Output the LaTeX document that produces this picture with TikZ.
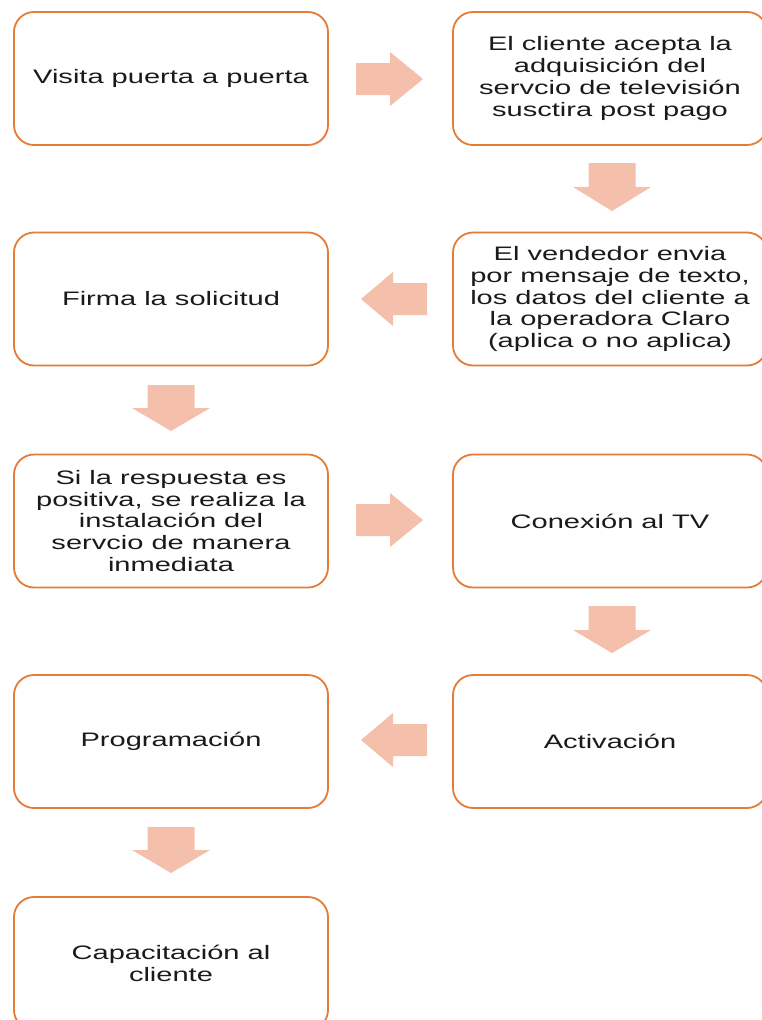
\documentclass[tikz,border=0pt]{standalone}
\usepackage{fontspec}
\setmainfont{Liberation Sans}[FakeStretch=1.49]
\definecolor{boxorange}{HTML}{E57C36}
\definecolor{arrowfill}{HTML}{F4BFAB}
\definecolor{txt}{HTML}{1A1A1A}
\begin{document}
\begin{tikzpicture}[x=1pt,y=-1pt,
  stepbox/.style={draw=boxorange, line width=1.8pt, rounded corners=20pt, fill=white,
    minimum width=314pt, minimum height=133pt, align=center, text=txt,
    font=\fontsize{19.5pt}{21.7pt}\selectfont, inner sep=0pt},
  blockarrow/.style={fill=arrowfill, draw=none}]
\useasboundingbox (0,0) rectangle (762,1020);
\fill[white] (0,0) rectangle (762,1020);
\begin{scope}
\clip (0,0) rectangle (762,1020);
\node[stepbox] (b1) at (171,78.5) {Visita puerta a puerta};
\node[stepbox] (b2) at (610,78.5) {El cliente acepta la\\adquisición del\\servcio de televisión\\susctira post pago};
\node[stepbox] (b3) at (610,299) {El vendedor envia\\por mensaje de texto,\\los datos del cliente a\\la operadora Claro\\(aplica o no aplica)};
\node[stepbox] (b4) at (171,299) {Firma la solicitud};
\node[stepbox] (b5) at (171,521) {Si la respuesta es\\positiva, se realiza la\\instalación del\\servcio de manera\\inmediata};
\node[stepbox] (b6) at (610,521) {Conexión al TV};
\node[stepbox] (b7) at (610,741.5) {Activación};
\node[stepbox] (b8) at (171,741.5) {Programación};
\node[stepbox] (b9) at (171,963.5) {Capacitación al\\cliente};
\end{scope}
% right arrow b1 -> b2
\fill[blockarrow] (356,63) -- (390,63) -- (390,52) -- (423,79) -- (390,106) -- (390,95) -- (356,95) -- cycle;
% down arrow b2 -> b3
\fill[blockarrow] (588.5,163) -- (635.5,163) -- (635.5,187) -- (651,187) -- (612,211) -- (573,187) -- (588.5,187) -- cycle;
% left arrow b3 -> b4
\fill[blockarrow] (427,283) -- (393,283) -- (393,272) -- (361,299) -- (393,326) -- (393,315) -- (427,315) -- cycle;
% down arrow b4 -> b5
\fill[blockarrow] (147.5,385) -- (194.5,385) -- (194.5,408) -- (210,408) -- (171,431) -- (132,408) -- (147.5,408) -- cycle;
% right arrow b5 -> b6
\fill[blockarrow] (356,504) -- (390,504) -- (390,493) -- (423,520) -- (390,547) -- (390,536) -- (356,536) -- cycle;
% down arrow b6 -> b7
\fill[blockarrow] (588.5,606) -- (635.5,606) -- (635.5,630) -- (651,630) -- (612,653) -- (573,630) -- (588.5,630) -- cycle;
% left arrow b7 -> b8
\fill[blockarrow] (427,724) -- (393,724) -- (393,713) -- (361,740) -- (393,767) -- (393,756) -- (427,756) -- cycle;
% down arrow b8 -> b9
\fill[blockarrow] (147.5,827) -- (194.5,827) -- (194.5,850) -- (210,850) -- (171,873) -- (132,850) -- (147.5,850) -- cycle;
\end{tikzpicture}
\end{document}
